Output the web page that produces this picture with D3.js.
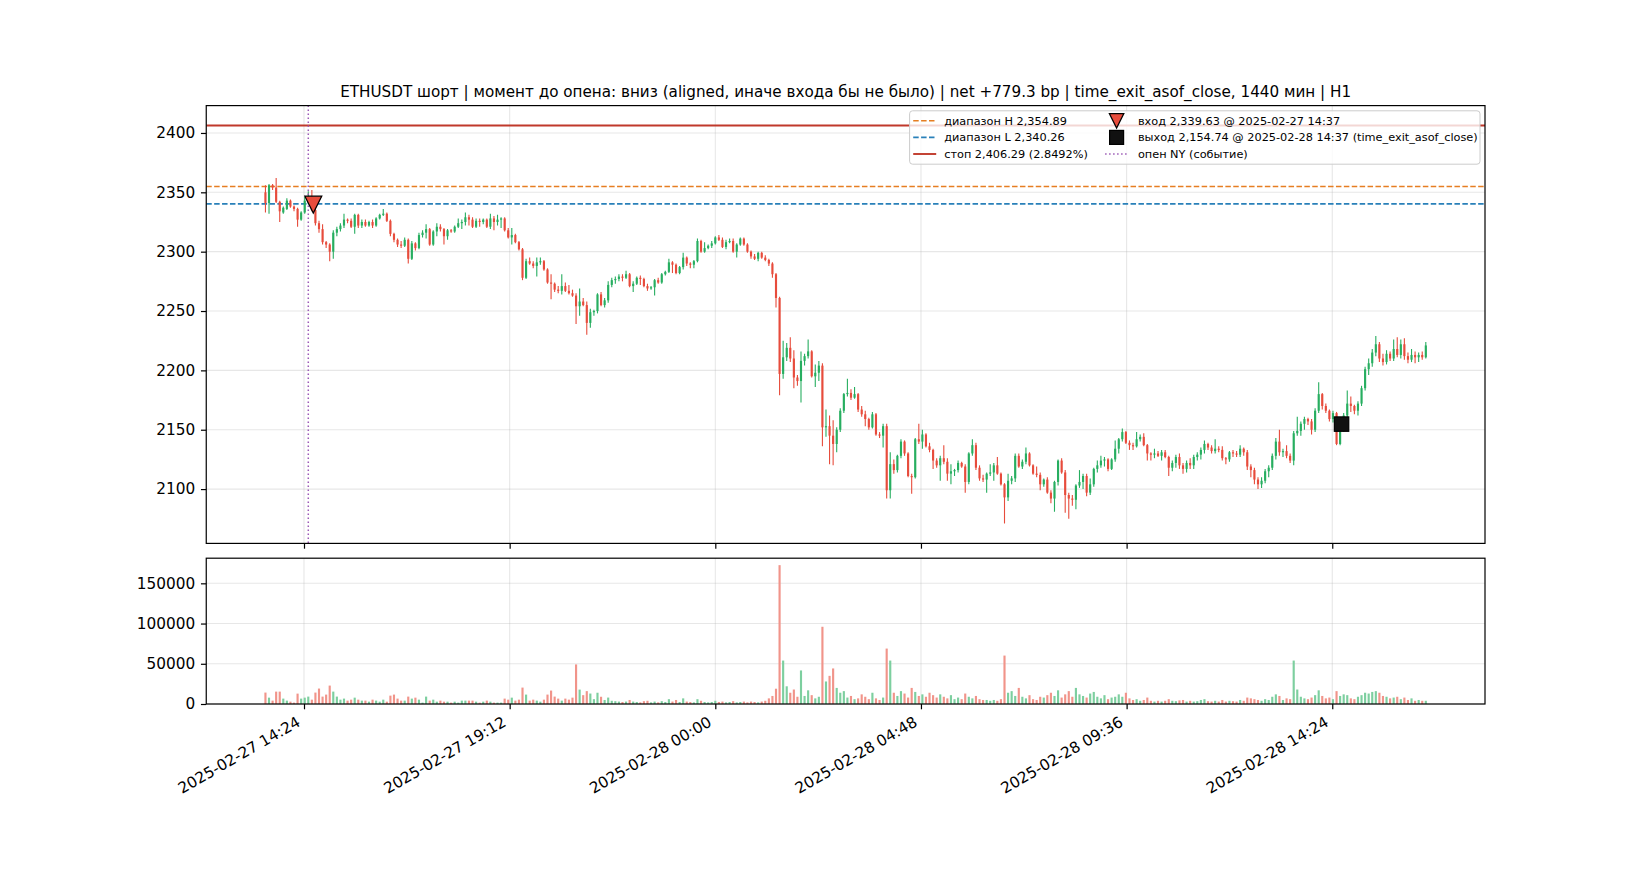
<!DOCTYPE html>
<html>
<head>
<meta charset="utf-8">
<script src="https://cdn.jsdelivr.net/npm/d3@7"></script>
<style>
  body { margin: 0; background: #fff; }
  svg { display: block; }
  text { font-family: "DejaVu Sans", sans-serif; fill: #000; }
</style>
</head>
<body>
<svg width="1650" height="880"></svg>
<script>
// Candle timing (5 minute candles, UTC).
const firstCandle = "2025-02-27 13:30";
const lastCandle = "2025-02-28 16:35";
const candleMinutes = 5;

// OHLC + volume.
const opens = [
  2350,2341,2356,2354,2342,2333,2336,2343,2338,2336,
  2327,2333,2343,2345,2335,2324,2319,2308,2306,2300,
  2316,2319,2322,2327,2326,2321,2331,2322,2325,2322,
  2325,2322,2328,2331,2332,2326,2315,2310,2306,2305,
  2310,2294,2307,2303,2314,2316,2319,2306,2317,2321,
  2319,2313,2318,2317,2321,2324,2325,2329,2327,2321,
  2326,2325,2327,2321,2328,2325,2327,2328,2318,2312,
  2314,2308,2302,2278,2292,2290,2288,2291,2292,2285,
  2274,2273,2268,2267,2271,2267,2265,2263,2254,2258,
  2255,2240,2249,2250,2264,2255,2259,2272,2276,2277,
  2279,2278,2281,2271,2273,2278,2277,2271,2269,2270,
  2276,2274,2281,2283,2291,2289,2282,2287,2295,2290,
  2289,2292,2309,2300,2303,2305,2307,2312,2310,2304,
  2308,2309,2300,2306,2311,2306,2300,2296,2294,2299,
  2295,2293,2290,2281,2261,2197,2211,2219,2210,2194,
  2191,2208,2212,2216,2195,2198,2204,2152,2153,2145,
  2138,2150,2166,2180,2181,2177,2180,2167,2163,2159,
  2152,2163,2146,2145,2153,2099,2121,2116,2128,2140,
  2130,2111,2110,2142,2140,2146,2136,2133,2124,2120,
  2126,2123,2113,2115,2116,2122,2119,2106,2130,2137,
  2118,2109,2108,2113,2114,2120,2113,2104,2093,2107,
  2109,2128,2119,2123,2130,2120,2113,2112,2104,2108,
  2097,2092,2106,2124,2114,2095,2092,2091,2103,2106,
  2111,2097,2104,2117,2120,2124,2125,2117,2125,2134,
  2142,2148,2139,2137,2136,2142,2144,2137,2130,2129,
  2130,2128,2131,2127,2118,2122,2127,2120,2117,2122,
  2120,2127,2129,2133,2138,2135,2132,2134,2133,2126,
  2125,2131,2130,2129,2134,2131,2119,2116,2108,2104,
  2107,2115,2118,2128,2140,2131,2132,2128,2124,2147,
  2149,2155,2159,2157,2150,2166,2180,2170,2166,2159,
  2164,2138,2149,2162,2172,2170,2166,2172,2185,2201,
  2206,2215,2222,2210,2207,2214,2210,2218,2213,2222,
  2212,2209,2213,2211,2213,2211
];
const highs = [
  2356,2357,2357,2362,2343,2338,2345,2344,2339,2337,
  2334,2346,2351,2352,2336,2326,2323,2309,2307,2318,
  2321,2324,2332,2328,2328,2332,2332,2327,2327,2326,
  2327,2329,2332,2336,2333,2327,2316,2311,2309,2312,
  2311,2309,2308,2316,2318,2323,2320,2318,2324,2323,
  2320,2319,2319,2322,2328,2327,2333,2331,2329,2328,
  2328,2328,2328,2332,2330,2331,2329,2329,2320,2320,
  2315,2309,2303,2294,2295,2292,2295,2295,2293,2286,
  2281,2274,2271,2281,2274,2272,2268,2265,2269,2261,
  2258,2252,2251,2265,2266,2261,2275,2278,2279,2281,
  2281,2284,2282,2275,2279,2280,2278,2273,2271,2277,
  2278,2282,2284,2294,2292,2290,2288,2299,2296,2291,
  2293,2311,2310,2308,2306,2309,2313,2314,2312,2310,
  2311,2311,2307,2312,2312,2307,2301,2298,2300,2300,
  2297,2294,2291,2282,2262,2225,2223,2228,2217,2196,
  2216,2214,2226,2217,2205,2208,2206,2167,2162,2158,
  2152,2168,2181,2193,2184,2186,2181,2170,2166,2160,
  2165,2164,2148,2155,2155,2131,2125,2129,2142,2141,
  2131,2113,2143,2155,2150,2147,2139,2134,2126,2128,
  2137,2126,2121,2117,2124,2123,2121,2131,2142,2139,
  2120,2112,2114,2121,2122,2127,2114,2105,2113,2111,
  2130,2130,2125,2135,2131,2121,2119,2114,2109,2110,
  2099,2107,2125,2126,2116,2097,2095,2104,2116,2113,
  2113,2109,2118,2124,2128,2127,2126,2126,2141,2143,
  2151,2149,2141,2139,2148,2146,2147,2138,2131,2134,
  2132,2133,2133,2128,2124,2129,2130,2122,2124,2126,
  2129,2131,2135,2141,2139,2137,2142,2136,2136,2127,
  2132,2133,2132,2137,2135,2133,2121,2118,2110,2110,
  2117,2120,2130,2143,2150,2134,2137,2130,2149,2161,
  2157,2161,2160,2159,2168,2190,2181,2172,2167,2166,
  2165,2156,2164,2183,2178,2171,2174,2187,2203,2210,
  2218,2229,2224,2214,2217,2216,2226,2228,2226,2227,
  2215,2218,2216,2215,2216,2224
];
const lows = [
  2333,2332,2352,2341,2325,2332,2335,2337,2334,2321,
  2326,2332,2340,2334,2322,2316,2306,2303,2292,2294,
  2313,2317,2320,2324,2320,2315,2320,2320,2321,2321,
  2320,2321,2327,2330,2325,2313,2308,2304,2303,2304,
  2290,2293,2301,2302,2312,2311,2305,2305,2313,2317,
  2306,2310,2316,2316,2320,2319,2322,2322,2320,2320,
  2321,2323,2320,2319,2318,2322,2320,2317,2311,2306,
  2307,2301,2276,2277,2289,2286,2279,2289,2284,2273,
  2260,2266,2265,2264,2266,2264,2262,2239,2246,2254,
  2230,2236,2246,2248,2254,2253,2257,2270,2273,2275,
  2275,2277,2270,2266,2272,2272,2270,2267,2268,2263,
  2273,2273,2280,2282,2282,2281,2281,2285,2288,2286,
  2286,2291,2299,2299,2302,2303,2306,2309,2303,2302,
  2307,2299,2295,2305,2305,2299,2294,2293,2292,2294,
  2292,2288,2278,2253,2179,2193,2208,2207,2185,2187,
  2173,2204,2210,2194,2186,2191,2136,2144,2121,2120,
  2131,2148,2164,2178,2175,2176,2165,2161,2153,2150,
  2151,2145,2143,2135,2092,2092,2113,2114,2126,2128,
  2110,2096,2109,2138,2134,2135,2131,2117,2118,2107,
  2121,2107,2104,2111,2114,2118,2097,2104,2128,2116,
  2107,2106,2097,2111,2107,2112,2103,2071,2090,2104,
  2106,2118,2117,2121,2119,2112,2110,2099,2102,2096,
  2088,2081,2103,2113,2080,2075,2086,2083,2101,2100,
  2094,2095,2102,2114,2118,2119,2115,2116,2123,2130,
  2140,2138,2133,2133,2135,2140,2136,2124,2124,2126,
  2127,2124,2126,2111,2115,2118,2117,2113,2114,2117,
  2117,2124,2125,2130,2133,2130,2130,2131,2124,2121,
  2123,2127,2127,2127,2128,2116,2110,2104,2100,2101,
  2105,2110,2116,2125,2128,2127,2126,2122,2120,2145,
  2145,2150,2154,2146,2148,2164,2167,2164,2157,2156,
  2137,2137,2148,2160,2165,2163,2162,2170,2183,2196,
  2203,2212,2207,2204,2205,2208,2208,2211,2210,2209,
  2206,2207,2206,2207,2209,2210
];
const closes = [
  2341,2356,2354,2342,2334,2337,2343,2338,2336,2327,
  2333,2343,2345,2335,2324,2319,2308,2306,2300,2316,
  2319,2322,2327,2326,2321,2331,2322,2325,2322,2325,
  2322,2328,2331,2332,2326,2315,2310,2306,2305,2310,
  2294,2307,2303,2314,2316,2319,2306,2317,2321,2319,
  2313,2318,2317,2321,2324,2325,2329,2327,2321,2326,
  2325,2327,2321,2328,2325,2327,2328,2318,2312,2314,
  2308,2302,2278,2292,2290,2288,2291,2292,2285,2274,
  2273,2268,2267,2271,2267,2265,2263,2254,2258,2255,
  2240,2249,2250,2264,2255,2259,2272,2276,2277,2279,
  2278,2281,2271,2273,2278,2277,2271,2269,2270,2276,
  2274,2281,2283,2291,2289,2282,2287,2295,2290,2289,
  2292,2309,2300,2303,2305,2307,2312,2310,2304,2308,
  2309,2300,2306,2311,2306,2300,2296,2294,2299,2295,
  2293,2290,2281,2261,2197,2211,2219,2210,2194,2191,
  2208,2212,2216,2195,2198,2204,2152,2153,2145,2138,
  2150,2166,2180,2181,2177,2180,2167,2163,2159,2152,
  2163,2146,2145,2153,2099,2121,2116,2128,2140,2130,
  2111,2110,2142,2140,2146,2136,2133,2124,2120,2126,
  2123,2113,2115,2116,2122,2119,2106,2130,2137,2118,
  2109,2108,2113,2114,2120,2113,2104,2093,2107,2109,
  2128,2119,2123,2130,2120,2113,2112,2104,2108,2097,
  2092,2106,2124,2114,2095,2092,2091,2103,2106,2111,
  2097,2104,2117,2120,2124,2125,2117,2125,2134,2142,
  2148,2139,2137,2136,2142,2144,2137,2130,2129,2130,
  2128,2131,2127,2118,2122,2127,2120,2117,2122,2120,
  2127,2129,2133,2138,2135,2132,2134,2133,2126,2125,
  2131,2130,2129,2134,2131,2119,2116,2108,2104,2107,
  2115,2118,2128,2140,2131,2132,2128,2124,2147,2149,
  2155,2159,2157,2150,2166,2180,2170,2166,2159,2164,
  2138,2149,2162,2172,2170,2166,2172,2185,2201,2206,
  2215,2222,2210,2207,2214,2210,2218,2213,2222,2212,
  2209,2213,2211,2213,2211,2221
];
const volumes = [
  14200,7900,4200,15400,15400,6700,4200,2900,1700,12900,
  6700,7900,9200,5400,14200,19200,9200,11700,22900,15400,
  9200,5400,6700,4200,5400,7900,5400,4200,4200,2900,
  5400,4200,2900,5400,2900,10400,11700,6700,4200,4200,
  9200,6700,7900,5400,1700,9200,4200,5400,2900,4200,
  2900,2900,1700,2900,1700,4200,4200,4200,4200,2900,
  1700,2900,4200,2900,1700,1700,1700,6700,5400,7900,
  4200,5400,20400,11700,4200,5400,4200,2900,5400,11700,
  16700,9200,6700,4200,6700,5400,7900,49200,17900,11000,
  16000,13000,6000,14000,9000,5000,8000,4000,3500,3000,
  2500,3000,5000,3000,2500,2000,3500,4000,2000,3000,
  2000,3500,2500,6000,3000,5000,2500,7000,3000,2500,
  2000,6000,4000,2500,2000,2500,4000,2500,3000,2000,
  2500,3500,2000,2500,3000,2000,3000,2500,2000,3000,
  4000,7000,10000,19000,172600,54000,22000,14000,18000,9000,
  41700,10000,17000,11000,7000,9000,96000,28000,35000,44200,
  20000,14000,16000,8000,10000,6000,7000,12000,9000,6000,
  14000,7000,5000,8000,68900,54000,14000,10000,16000,13000,
  8000,20000,15000,10000,12000,9000,14000,11000,8000,12000,
  9000,7000,11000,6000,8000,6000,13000,9000,7000,10000,
  6000,5000,5000,4000,5000,4000,6000,60200,14000,16000,
  10000,20000,9000,7000,11000,6000,5000,9000,8000,11000,
  14000,10000,17000,8000,12000,16000,9000,20000,12000,10000,
  8000,13000,15000,9000,7000,11000,6000,8000,9000,12000,
  9000,14000,7000,5000,6000,4000,5000,8000,4000,3000,
  4000,3000,4000,6000,4000,3500,4500,5000,3000,4000,
  3000,3500,5000,6000,3500,3000,4000,3000,5000,3000,
  4000,3500,3000,5000,4000,8000,7000,6000,5000,4000,
  6000,5000,9000,12000,10000,5000,7000,6000,54000,18000,
  9000,7000,6000,8000,11000,17000,10000,7000,8000,6000,
  16000,10000,12000,11000,7000,6000,9000,11000,14000,13000,
  15000,16000,14000,10000,9000,7000,8000,9000,6000,8000,
  5000,7000,4000,5000,4000,4000
];

// Trade levels and events.
const rangeHigh = 2354.89;
const rangeLow = 2340.26;
const stopPrice = 2406.29;
const nyOpenTime = "2025-02-27 14:30";
const entryTime = "2025-02-27 14:37";
const entryPrice = 2339.63;
const exitTime = "2025-02-28 14:37";
const exitPrice = 2154.74;

// Axis ticks.
const xTickLabels = ["2025-02-27 14:24", "2025-02-27 19:12", "2025-02-28 00:00",
  "2025-02-28 04:48", "2025-02-28 09:36", "2025-02-28 14:24"];
const priceTicks = [2100, 2150, 2200, 2250, 2300, 2350, 2400];
const volumeTicks = [0, 50000, 100000, 150000];

const titleText = "ETHUSDT шорт | момент до опена: вниз (aligned, иначе входа бы не было) | net +779.3 bp | time_exit_asof_close, 1440 мин | H1";
const legendLeft = [
  { label: "диапазон H 2,354.89", color: "#e67e22", dash: "5.5,2.4", width: 1.6 },
  { label: "диапазон L 2,340.26", color: "#2980b9", dash: "5.5,2.4", width: 1.6 },
  { label: "стоп 2,406.29 (2.8492%)", color: "#c0392b", dash: null, width: 1.9 }
];
const legendRight = [
  { label: "вход 2,339.63 @ 2025-02-27 14:37", marker: "entry" },
  { label: "выход 2,154.74 @ 2025-02-28 14:37 (time_exit_asof_close)", marker: "exit" },
  { label: "опен NY (событие)", marker: "line" }
];

// Colours.
const upColor = "#27ae60";
const downColor = "#e74c3c";
const volUp = "#7dcf9f";
const volDown = "#f1948a";
const nyColor = "#9b59b6";

// Figure layout (pixels).
const left = 206.25, right = 1485;
const priceTop = 105.6, priceBottom = 543.4;
const volTop = 558.2, volBottom = 704;
const tickLen = 5.3;
const tickFont = 15.3;
const legendFont = 11.3;

const parse = d3.utcParse("%Y-%m-%d %H:%M");
const fmt = d3.utcFormat("%Y-%m-%d %H:%M");

const times = d3.utcMinute.every(candleMinutes)
  .range(parse(firstCandle), d3.utcMinute.offset(parse(lastCandle), 1));
const candles = times.map((t, i) => ({
  t: t, o: opens[i], h: highs[i], l: lows[i], c: closes[i], v: volumes[i]
}));

// X scale with matplotlib-like 5% margins around the bar extents.
const halfW = candleMinutes * 0.6 / 2 * 60000;
const xMin = +candles[0].t - halfW;
const xMax = +candles[candles.length - 1].t + halfW;
const xPad = (xMax - xMin) * 0.05;
const x = d3.scaleUtc()
  .domain([new Date(xMin - xPad), new Date(xMax + xPad)])
  .range([left, right]);
const barW = x(new Date(xMin + 2 * halfW)) - x(new Date(xMin));

// Price scale includes the stop line, 5% margins.
const pMin = Math.min(d3.min(lows), rangeLow, stopPrice);
const pMax = Math.max(d3.max(highs), rangeHigh, stopPrice);
const pPad = (pMax - pMin) * 0.05;
const y = d3.scaleLinear().domain([pMin - pPad, pMax + pPad]).range([priceBottom, priceTop]);

const yv = d3.scaleLinear().domain([0, d3.max(volumes) * 1.05]).range([volBottom, volTop]);

const svg = d3.select("svg");
const xTicks = xTickLabels.map(parse);

// Clip paths for both panels.
const defs = svg.append("defs");
defs.append("clipPath").attr("id", "clipPrice").append("rect")
  .attr("x", left).attr("y", priceTop).attr("width", right - left).attr("height", priceBottom - priceTop);
defs.append("clipPath").attr("id", "clipVol").append("rect")
  .attr("x", left).attr("y", volTop).attr("width", right - left).attr("height", volBottom - volTop);

// Grid lines.
function grid(top, bottom, yTicks, ys) {
  const g = svg.append("g").attr("stroke", "#b0b0b0").attr("stroke-opacity", 0.3).attr("stroke-width", 1.1);
  g.selectAll("line.gx").data(xTicks).enter().append("line")
    .attr("x1", d => x(d)).attr("x2", d => x(d)).attr("y1", top).attr("y2", bottom);
  g.selectAll("line.gy").data(yTicks).enter().append("line")
    .attr("x1", left).attr("x2", right).attr("y1", d => ys(d)).attr("y2", d => ys(d));
}
grid(priceTop, priceBottom, priceTicks, y);
grid(volTop, volBottom, volumeTicks, yv);

// Price panel.
const price = svg.append("g").attr("clip-path", "url(#clipPrice)");

// Horizontal levels.
price.append("line")
  .attr("x1", left).attr("x2", right).attr("y1", y(rangeHigh)).attr("y2", y(rangeHigh))
  .attr("stroke", legendLeft[0].color).attr("stroke-width", 1.6).attr("stroke-dasharray", legendLeft[0].dash);
price.append("line")
  .attr("x1", left).attr("x2", right).attr("y1", y(rangeLow)).attr("y2", y(rangeLow))
  .attr("stroke", legendLeft[1].color).attr("stroke-width", 1.6).attr("stroke-dasharray", legendLeft[1].dash);
price.append("line")
  .attr("x1", left).attr("x2", right).attr("y1", y(stopPrice)).attr("y2", y(stopPrice))
  .attr("stroke", legendLeft[2].color).attr("stroke-width", 1.9);

// Candles: wick then body.
const cg = price.append("g");
cg.selectAll("line.wick").data(candles).enter().append("line")
  .attr("x1", d => x(d.t)).attr("x2", d => x(d.t))
  .attr("y1", d => y(d.h)).attr("y2", d => y(d.l))
  .attr("stroke", d => d.c >= d.o ? upColor : downColor)
  .attr("stroke-width", 1.1);
cg.selectAll("rect.body").data(candles).enter().append("rect")
  .attr("x", d => x(d.t) - barW / 2)
  .attr("width", barW)
  .attr("y", d => y(Math.max(d.o, d.c)))
  .attr("height", d => Math.max(1, Math.abs(y(d.o) - y(d.c))))
  .attr("fill", d => d.c >= d.o ? upColor : downColor);

// NY open event line.
price.append("line")
  .attr("x1", x(parse(nyOpenTime))).attr("x2", x(parse(nyOpenTime)))
  .attr("y1", priceTop).attr("y2", priceBottom)
  .attr("stroke", nyColor).attr("stroke-width", 1.5).attr("stroke-dasharray", "1.5,2.5");

// Entry / exit markers.
function triangleDown(cx, cy, s) {
  return `M${cx - s / 2},${cy - s / 2}L${cx + s / 2},${cy - s / 2}L${cx},${cy + s / 2}Z`;
}
price.append("path")
  .attr("d", triangleDown(x(parse(entryTime)), y(entryPrice), 17))
  .attr("fill", downColor).attr("stroke", "#000").attr("stroke-width", 1.2);
price.append("rect")
  .attr("x", x(parse(exitTime)) - 7.2).attr("y", y(exitPrice) - 7.2)
  .attr("width", 14.4).attr("height", 14.4)
  .attr("fill", "#111").attr("stroke", "#000").attr("stroke-width", 1.2);

// Volume panel.
const vol = svg.append("g").attr("clip-path", "url(#clipVol)");
vol.selectAll("rect").data(candles).enter().append("rect")
  .attr("x", d => x(d.t) - barW / 2)
  .attr("width", barW)
  .attr("y", d => yv(d.v))
  .attr("height", d => yv(0) - yv(d.v))
  .attr("fill", d => d.c >= d.o ? volUp : volDown);

// Axes frames.
[[priceTop, priceBottom], [volTop, volBottom]].forEach(([t, b]) => {
  svg.append("rect")
    .attr("x", left).attr("y", t).attr("width", right - left).attr("height", b - t)
    .attr("fill", "none").attr("stroke", "#000").attr("stroke-width", 1.2);
});

// X tick marks on both panels, labels on the bottom one only.
[priceBottom, volBottom].forEach(b => {
  svg.append("g").attr("transform", `translate(0,${b})`)
    .call(d3.axisBottom(x).tickValues(xTicks).tickSize(tickLen).tickFormat(""))
    .call(g => g.select(".domain").remove())
    .call(g => g.selectAll(".tick line").attr("stroke-width", 1.2));
});

svg.append("g").selectAll("text").data(xTicks).enter().append("text")
  .attr("transform", d => `translate(${x(d) - 2.5},${volBottom + 2 * tickLen + 10.5}) rotate(-30)`)
  .attr("text-anchor", "end")
  .attr("font-size", tickFont)
  .text(d => fmt(d));

// Y axes.
function yAxis(scale, ticks) {
  svg.append("g").attr("transform", `translate(${left},0)`)
    .call(d3.axisLeft(scale).tickValues(ticks).tickSize(tickLen).tickPadding(5.8).tickFormat(d3.format("d")))
    .call(g => g.select(".domain").remove())
    .call(g => g.selectAll(".tick line").attr("stroke-width", 1.2))
    .call(g => g.selectAll(".tick text").attr("font-size", tickFont).attr("fill", "#000")
      .attr("font-family", "DejaVu Sans"));
}
yAxis(y, priceTicks);
yAxis(yv, volumeTicks);

// Title.
svg.append("text")
  .attr("x", (left + right) / 2).attr("y", 97)
  .attr("text-anchor", "middle").attr("font-size", 15.2)
  .text(titleText);

// Legend.
const lg = svg.append("g");
lg.append("rect")
  .attr("x", 909.6).attr("y", 110.8).attr("width", 570.4).attr("height", 53.4).attr("rx", 3)
  .attr("fill", "#fff").attr("fill-opacity", 0.8).attr("stroke", "#cccccc").attr("stroke-width", 1);
const rowY = [120.8, 137.4, 154];
legendLeft.forEach((d, i) => {
  const ln = lg.append("line")
    .attr("x1", 913.2).attr("x2", 936.2).attr("y1", rowY[i]).attr("y2", rowY[i])
    .attr("stroke", d.color).attr("stroke-width", d.width);
  if (d.dash) ln.attr("stroke-dasharray", d.dash);
  lg.append("text").attr("x", 944.2).attr("y", rowY[i]).attr("dy", "0.35em")
    .attr("font-size", legendFont).text(d.label);
});
legendRight.forEach((d, i) => {
  const cx = 1116.6;
  if (d.marker === "entry") {
    lg.append("path").attr("d", triangleDown(cx, rowY[i], 14.5))
      .attr("fill", downColor).attr("stroke", "#000").attr("stroke-width", 1.2);
  } else if (d.marker === "exit") {
    lg.append("rect").attr("x", cx - 7).attr("y", rowY[i] - 7).attr("width", 14).attr("height", 14)
      .attr("fill", "#111").attr("stroke", "#000").attr("stroke-width", 1.2);
  } else {
    lg.append("line").attr("x1", cx - 11.5).attr("x2", cx + 11.5).attr("y1", rowY[i]).attr("y2", rowY[i])
      .attr("stroke", nyColor).attr("stroke-width", 1.5).attr("stroke-dasharray", "1.5,2.5");
  }
  lg.append("text").attr("x", 1137.9).attr("y", rowY[i]).attr("dy", "0.35em")
    .attr("font-size", legendFont).text(d.label);
});
</script>
</body>
</html>
